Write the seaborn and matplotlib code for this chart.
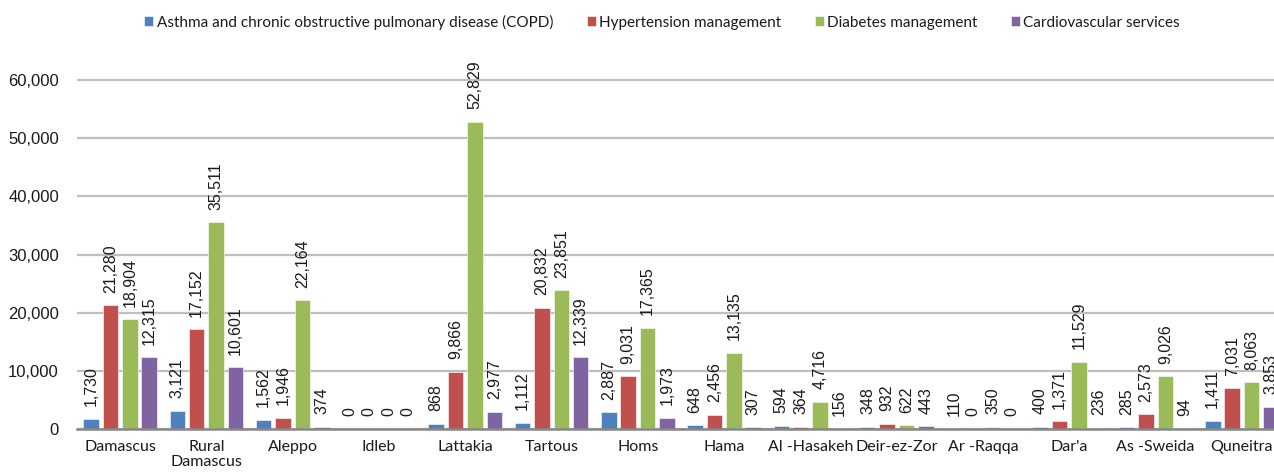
import matplotlib
matplotlib.use("Agg")
import matplotlib.pyplot as plt
import seaborn as sns
import pandas as pd
from matplotlib.ticker import FuncFormatter

regions = ["Damascus", "Rural\nDamascus", "Aleppo", "Idleb", "Lattakia", "Tartous",
           "Homs", "Hama", "Al -Hasakeh", "Deir-ez-Zor", "Ar -Raqqa", "Dar'a",
           "As -Sweida", "Quneitra"]
services = ["Asthma and chronic obstructive pulmonary disease (COPD)",
            "Hypertension management", "Diabetes management",
            "Cardiovascular services"]
copd = [1730, 3121, 1562, 0, 868, 1112, 2887, 648, 594, 348, 110, 400, 285, 1411]
hypertension = [21280, 17152, 1946, 0, 9866, 20832, 9031, 2456, 364, 932, 0, 1371, 2573, 7031]
diabetes = [18904, 35511, 22164, 0, 52829, 23851, 17365, 13135, 4716, 622, 350, 11529, 9026, 8063]
cardio = [12315, 10601, 374, 0, 2977, 12339, 1973, 307, 156, 443, 0, 236, 94, 3853]
yticks = [0, 10000, 20000, 30000, 40000, 50000, 60000]
colors = ["#4F81BD", "#C0504D", "#9BBB59", "#8064A2"]

series = [copd, hypertension, diabetes, cardio]
df = pd.DataFrame({
    "region": [r for _ in services for r in regions],
    "service": [s for s in services for _ in regions],
    "value": [v for vals in series for v in vals],
})

sns.set_theme(style="white")
narrow = ["Lato", "DejaVu Sans"]
plt.rcParams["font.family"] = ["Liberation Sans", "DejaVu Sans"]
plt.rcParams["text.color"] = "#1a1a1a"

fig = plt.figure(figsize=(12.74, 4.75), dpi=100)
ax = fig.add_axes([77 / 1274, 1 - 429 / 475, 1208 / 1274, 399 / 475])

sns.barplot(data=df, x="region", y="value", hue="service", hue_order=services,
            order=regions, palette=colors, saturation=1, width=0.9, gap=0.2,
            edgecolor="white", linewidth=0.4, ax=ax)

for cont in ax.containers:
    ax.bar_label(cont, labels=[f"{b.get_height():,.0f}" for b in cont],
                 rotation=90, padding=9, fontsize=11.5, color="#1a1a1a",
                 clip_on=False)

ax.set_ylim(0, 60000 * 399 / 349)
ax.set_xlim(-0.5, len(regions) - 0.5)
ax.set_yticks(yticks)
ax.yaxis.set_major_formatter(FuncFormatter(lambda v, p: f"{v:,.0f}"))
ax.grid(axis="y", color="#BFBFBF", linewidth=1.6)
ax.set_axisbelow(True)
for side in ["top", "right", "left"]:
    ax.spines[side].set_visible(False)
ax.spines["bottom"].set_color("#878787")
ax.spines["bottom"].set_linewidth(1.8)
ax.tick_params(axis="y", length=0, pad=13, labelsize=12, labelcolor="#1a1a1a")
ax.tick_params(axis="x", length=0, pad=8, labelcolor="#1a1a1a")
for lab in ax.get_xticklabels():
    lab.set_fontfamily(narrow)
    lab.set_fontsize(11.5)
    lab.set_linespacing(1.05)
ax.set_xlabel("")
ax.set_ylabel("")

handles, labels = ax.get_legend_handles_labels()
ax.get_legend().remove()
fig.legend(handles, labels, loc="center", bbox_to_anchor=(662 / 1274, 1 - 22 / 475),
           ncol=4, frameon=False, prop={"family": narrow, "size": 11},
           handlelength=0.6, handleheight=0.6, handletextpad=0.2,
           columnspacing=2.2, borderaxespad=0)

fig.savefig("out.png", dpi=100)
